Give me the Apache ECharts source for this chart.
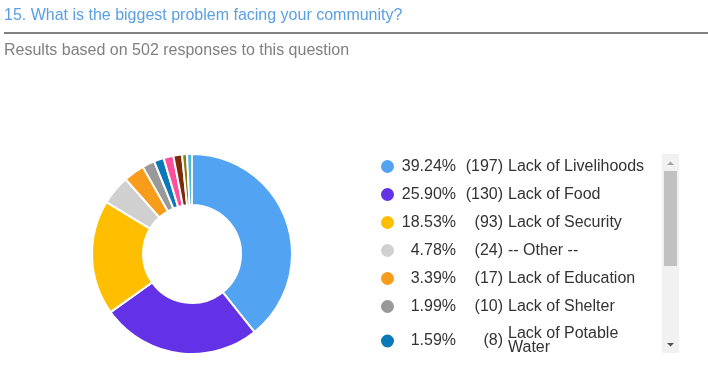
<!DOCTYPE html>
<html>
<head>
<meta charset="utf-8">
<script src="https://cdn.jsdelivr.net/npm/echarts@6/dist/echarts.min.js"></script>
<style>
  html, body { margin: 0; padding: 0; background: #fff; }
  #chart { width: 708px; height: 390px; }
</style>
</head>
<body>
<div id="chart"></div>
<script>
// answers, in legend order (only the first seven are visible in the list)
var categories = ['Lack of Livelihoods', 'Lack of Food', 'Lack of Security', '-- Other --',
    'Lack of Education', 'Lack of Shelter', 'Lack of Potable Water', 'Lack of Health Care',
    'Lack of Infrastructure', 'Lack of Electricity', 'Lack of Roads'];
var counts = [197, 130, 93, 24, 17, 10, 8, 8, 7, 4, 4];
var colors = ['#52a3f2', '#6331e6', '#ffbf00', '#d0d0d0', '#f89c1c', '#999999',
    '#0b79b8', '#ff4f9b', '#7a2b08', '#8c7a14', '#4ab8d8'];
var total = 502;

var titleText = '15. What is the biggest problem facing your community?';
var subText = 'Results based on ' + total + ' responses to this question';

var sans = "'Liberation Sans', Arial, sans-serif";
var font16 = '16px ' + sans;

// measure text so the number columns can be right aligned
var ctx = document.createElement('canvas').getContext('2d');
ctx.font = font16;
function tw(s) { return ctx.measureText(s).width; }

var pctW = 56, cntW = 47;
var rich = {
    n: { fontSize: 16, fontFamily: sans, color: '#333', lineHeight: 16, padding: [0, 0, 0, 5] }
};
var labels = categories.map(function (name, i) {
    var pct = (counts[i] / total * 100).toFixed(2) + '%';
    var cnt = '(' + counts[i] + ')';
    var wrap = name.length > 20;
    var base = { fontSize: 16, fontFamily: sans, color: '#333' };
    if (!wrap) {
        rich['p' + i] = Object.assign({ lineHeight: 16, padding: [0, 0, 0, pctW - tw(pct)] }, base);
        rich['c' + i] = Object.assign({ lineHeight: 16, padding: [0, 0, 0, cntW - tw(cnt)] }, base);
        return '{p' + i + '|' + pct + '}{c' + i + '|' + cnt + '}{n|' + name + '}';
    }
    // two line name: numbers sit between the lines
    var cut = name.lastIndexOf(' ');
    var a = name.slice(0, cut), b = name.slice(cut + 1);
    rich['p' + i] = Object.assign({ lineHeight: 30, padding: [0, 0, 0, pctW - tw(pct)] }, base);
    rich['c' + i] = Object.assign({ lineHeight: 30, padding: [0, 0, 0, cntW - tw(cnt)] }, base);
    rich['a' + i] = Object.assign({ lineHeight: 14, verticalAlign: 'top', padding: [0, 0, 0, 5] }, base);
    rich['b' + i] = Object.assign({ lineHeight: 14, verticalAlign: 'bottom', padding: [0, 0, 0, -tw(a)] }, base);
    return '{p' + i + '|' + pct + '}{c' + i + '|' + cnt + '}{a' + i + '|' + a + '}{b' + i + '|' + b + '}';
});

var chart = echarts.init(document.getElementById('chart'));

var pieData = categories.map(function (name, i) {
    return { name: name, value: counts[i], itemStyle: { color: colors[i] } };
});

chart.setOption({
    animation: false,
    legend: {
        orient: 'vertical',
        left: 379,
        top: 158,
        height: 1000,
        padding: 0,
        itemWidth: 15,
        itemHeight: 15,
        itemGap: 11,
        icon: 'circle',
        selectedMode: false,
        data: categories,
        formatter: function (name) {
            return labels[categories.indexOf(name)];
        },
        textStyle: {
            fontFamily: sans,
            fontSize: 16,
            color: '#333',
            lineHeight: 16,
            rich: rich
        }
    },
    series: [{
        type: 'pie',
        center: [192, 254],
        radius: [49, 100],
        startAngle: 90,
        silent: true,
        label: { show: false },
        labelLine: { show: false },
        itemStyle: { borderColor: '#fff', borderWidth: 2 },
        data: pieData
    }],
    graphic: [
        { type: 'text', x: 4, y: 15.2,
          style: { text: titleText, font: font16, fill: '#5a9fe3', verticalAlign: 'middle' } },
        { type: 'rect', shape: { x: 4, y: 32, width: 704, height: 2 }, style: { fill: '#808080' } },
        { type: 'text', x: 4, y: 50.5,
          style: { text: subText, font: font16, fill: '#808080', verticalAlign: 'middle' } },
        // cut the legend list off like the scrolling box does
        { type: 'rect', z: 100, shape: { x: 360, y: 354, width: 348, height: 40 }, style: { fill: '#fff' } },
        // scrollbar
        { type: 'rect', z: 101, shape: { x: 662, y: 154, width: 17, height: 199 }, style: { fill: '#f1f1f1' } },
        { type: 'rect', z: 102, shape: { x: 664, y: 171, width: 13, height: 95 }, style: { fill: '#c1c1c1' } },
        { type: 'polygon', z: 102, shape: { points: [[667, 165], [674, 165], [670.5, 161.5]] }, style: { fill: '#a3a3a3' } },
        { type: 'polygon', z: 102, shape: { points: [[667, 343], [674, 343], [670.5, 346.5]] }, style: { fill: '#505050' } }
    ]
});
</script>
</body>
</html>
